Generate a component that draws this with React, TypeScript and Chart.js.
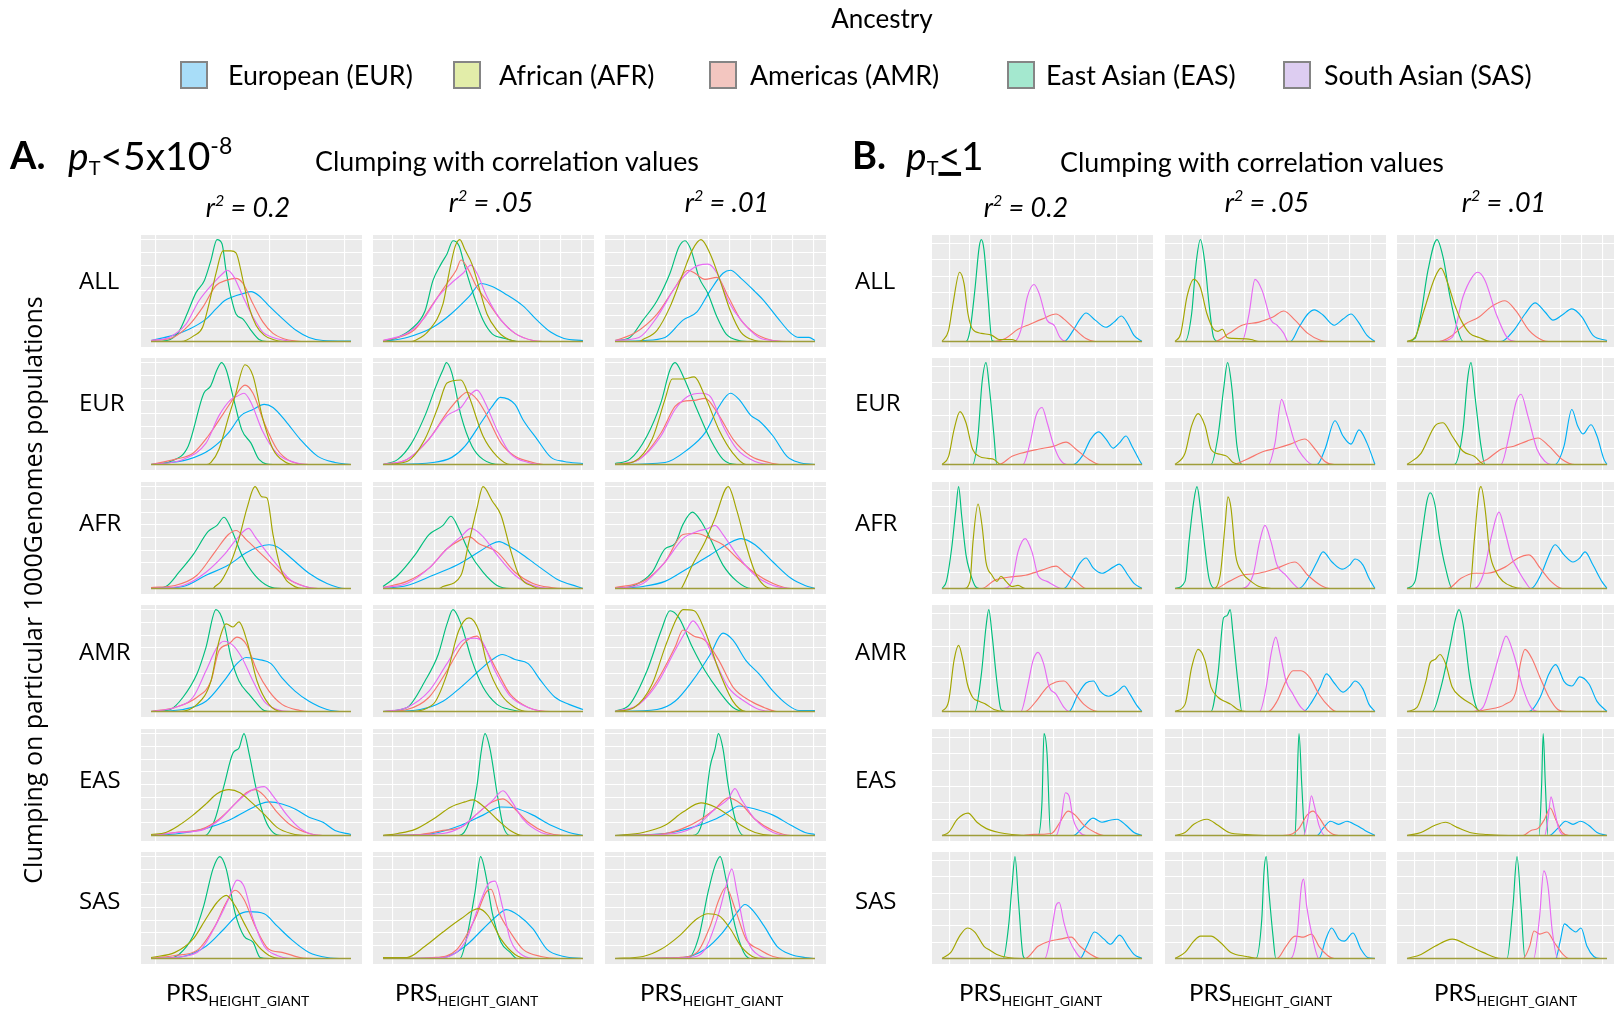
import React, { useEffect, useRef } from "react";
import { Chart, registerables } from "chart.js";

Chart.register(...registerables);

// ---------- categories / labels ----------
const ANCESTRIES = ["EUR", "AFR", "AMR", "EAS", "SAS"];
const LEGEND_LABELS = ["European (EUR)", "African (AFR)", "Americas (AMR)", "East Asian (EAS)", "South Asian (SAS)"];
const LINE_COLORS = ["#00B0F6", "#A3A500", "#F8766D", "#00BF7D", "#E76BF3"];
const FILL_COLORS = ["#A8DDF8", "#E2EDA9", "#F3C6C0", "#A4E8CF", "#DDCDF1"];
const DRAW_ORDER = [4, 0, 2, 3, 1];
const ROW_LABELS = ["ALL", "EUR", "AFR", "AMR", "EAS", "SAS"];
const R2_VALUES = ["0.2", ".05", ".01"];

// ---------- density curves (x: 0..100 of PRS range, y: 0..100 of panel max) ----------
// order in each panel: EUR, AFR, AMR, EAS, SAS
const A_ALL_02 = [
  [0,1, 11,6, 19,12, 27.5,22, 32.5,32, 36.7,40, 41,44, 46,47, 50,49, 54,45, 59,35, 66,22, 72.5,11, 79,4, 86,1, 100,0.5],
  [0,0, 15,0, 21.7,6, 25.8,14, 29,37, 32.5,67, 36,89, 40,89, 42.5,87, 46,60, 49,34, 52.5,16, 56.7,6, 61,2, 66,0, 100,0],
  [0,1, 11,4, 19,16, 26,34, 32.5,55, 37.5,60, 42.5,62, 46,57, 51,37, 56,19, 61,8, 66,3, 72.5,0.5, 79,0, 100,0],
  [0,0, 8,1, 14,10, 18,27, 22.5,48, 26.7,60, 30,80, 33,100, 35.5,96, 37.5,70, 40,44, 42.5,27, 46,22, 50,11, 54,2, 58,0, 100,0],
  [0,1, 9,4, 17.5,17, 24,40, 31,57, 36,67, 38,70, 41,65, 46,44, 51,24, 56,9, 61,4, 67.5,1, 72,0, 100,0],
];
const A_ALL_05 = [
  [0,0, 12,4, 25,14, 34,27, 43,44, 49,57, 54.6,54, 61,47, 70,35, 77,21, 84,9, 90.5,3, 100,1],
  [0,0, 14,0, 16,1, 23,11, 30,37, 33,67, 36,93, 38.4,100, 41,90, 44.5,76, 48,53, 52,27, 57,11, 61,4, 68,0, 100,0],
  [0,1, 7.4,4, 16,12, 25,37, 32,57, 36.6,70, 39,80, 42,73, 47,53, 52,40, 59,21, 66,8, 75,1, 82,0, 100,0],
  [0,0, 7.4,4, 14,12, 21,30, 25,60, 29,76, 32,86, 35,99, 38,94, 41,73, 45.6,44, 50,21, 54.6,7.5, 61,3, 68,0, 100,0],
  [0,1, 12,8, 21,24, 27.6,44, 34,57, 40,67, 44,75, 47,67, 52,44, 59,21, 66,8, 75,1, 82,0, 100,0],
];
const A_ALL_01 = [
  [0,0, 14,1, 25,4, 34,21, 41,29, 47.6,50, 54,67, 57.7,70, 63,62, 70,49, 74.5,40, 81,24, 88,8, 92,4, 97,4, 100,1],
  [0,0, 12,0, 14,2, 21,11, 27.5,34, 34,67, 38.7,90, 43,100, 47.6,86, 52,63, 57.7,30, 63,9, 70,1, 74.5,0, 100,0],
  [0,1, 9.6,8, 21,27, 30,53, 36.5,70, 40,67, 45,61, 51,63, 56.6,44, 63,21, 70,8, 77,2, 86,0, 100,0],
  [0,1, 7.4,4, 14,21, 21,40, 27.5,67, 32,93, 35,99, 38,90, 42,63, 46.5,47, 51,24, 55.5,7.5, 62,1, 68,0, 100,0],
  [0,1, 12,4, 21,24, 30,53, 36.5,68, 42,75, 46.5,76, 51,67, 56.6,40, 63,21, 72,4, 79,1, 86,0, 100,0],
];
const A_EUR_02 = [
  [0,0, 18.6,5, 29.8,15, 38.7,31, 45,48, 51,54, 56.6,59, 61,56, 68,41, 74.5,25, 83.4,8, 92,2, 100,0],
  [0,0, 28,0, 30,2, 34,15, 39,48, 42,67, 47,98, 51,87, 55.5,48, 61,15, 66.7,3, 72,0, 100,0],
  [0,0, 12,5, 21,11, 28.6,28, 36.5,51, 42,67, 47,78, 51,70, 56.6,41, 63,15, 70,3, 79,0, 100,0],
  [0,0, 9.6,3, 18.6,18, 26.4,70, 29.8,77, 33,93, 35.3,100, 37.6,93, 41,67, 45.4,34, 50,21, 54,5, 61,0, 100,0],
  [0,0, 16,5, 27.5,21, 34,48, 40,64, 43,67, 46.5,70, 50,61, 55.5,34, 63,11, 72,2, 79,0, 100,0],
];
const A_EUR_05 = [
  [0,0, 25,2, 34.4,7, 41,18, 50,44, 54.6,57, 58.6,66, 66,59, 70,44, 77,25, 84,7, 90.5,3, 100,1],
  [0,0, 12,3, 21,25, 27.6,57, 32,80, 39,83, 43,67, 50,28, 57,8, 63.6,0, 100,0],
  [0,0, 12,5, 23,25, 32,51, 39,67, 42,71, 47,64, 52,48, 59,21, 66,8, 75,2, 81.6,0, 100,0],
  [0,0, 7.4,5, 14,20, 21,48, 26.5,77, 30,93, 31.7,100, 34.4,90, 39,48, 44.5,18, 50,5, 59,0, 100,0],
  [0,0, 12,5, 23,25, 32,48, 39,56, 43,67, 47,73, 51,61, 57,34, 63.6,11, 72.6,2, 81.6,0, 100,0],
];
const A_EUR_01 = [
  [0,0, 25,2, 36.5,15, 45,31, 52,57, 57.7,70, 62,64, 68,48, 72,43, 79,28, 86,8, 92,2, 100,0],
  [0,0, 9.6,3, 18.6,25, 25,64, 28.6,84, 34,84, 39.6,86, 45,67, 52,34, 59,11, 65.5,0, 100,0],
  [0,0, 12,5, 23,31, 30,57, 34,62, 39.6,63, 45,65, 52,48, 59,25, 68,8, 77,2, 83.4,0, 100,0],
  [0,1, 7.4,5, 16,28, 23,61, 27.5,93, 30,100, 34,87, 41,54, 47.6,25, 54,5, 61,0, 100,0],
  [0,0, 12,5, 23,28, 30,54, 36.5,67, 43,70, 47.6,67, 54,38, 61,15, 70,3, 79,0, 100,0],
];
const A_AFR_02 = [
  [0,0, 16,2, 27.5,13, 38.7,23, 47.6,35, 54,41, 59,43, 63,41, 70,30, 79,15, 88,5, 97,0, 100,0],
  [0,0, 31,0, 32,2, 35,7, 40,26, 44,49, 48,79, 52,100, 55.5,90, 58,89, 61,53, 65.5,16, 71,3, 77,0, 100,0],
  [0,1, 12,3, 23,13, 32,36, 38.7,53, 42.5,57, 47.6,48, 54,36, 61,23, 68,10, 77,2, 83.4,0, 100,0],
  [0,0, 7.4,2, 14,16, 21,33, 28.6,56, 33,62, 36.5,70, 40,59, 45.4,33, 52,13, 59,2, 65.5,0, 100,0],
  [0,0, 16,3, 27.5,16, 36.5,33, 43,49, 48.8,59, 52,51, 56.6,39, 63,23, 70,8, 79,1, 86,0, 100,0],
];
const A_AFR_05 = [
  [0,0, 12,3, 25,13, 37,23, 48,36, 54.6,44, 58,46, 63.6,41, 70,33, 79,20, 88,8, 97,2, 100,0],
  [0,0, 28,0, 30,2, 39,13, 43,46, 47,79, 50,100, 54.6,86, 59,72, 63.6,39, 68,13, 75,2, 79,0, 100,0],
  [0,1, 12,7, 23,20, 32,39, 39,48, 43,51, 48,44, 57,36, 66,16, 75,5, 84,1, 90.5,0, 100,0],
  [0,2, 7.4,13, 16,33, 23,53, 30,62, 34,71, 37.8,59, 43,36, 50,16, 57,3, 63.6,0, 100,0],
  [0,1, 12,5, 23,20, 32,39, 39,51, 44,59, 50,51, 57,33, 66,13, 75,3, 84,0, 100,0],
];
const A_AFR_01 = [
  [0,0, 14,2, 25,7, 36.5,20, 47.6,33, 56.6,44, 63,49, 70,43, 79,26, 88,10, 95,3, 100,0],
  [0,0, 33,0, 34,3, 38.7,23, 45,46, 50,69, 56.6,100, 61,76, 65.5,43, 70,16, 74.5,3, 79,0, 100,0],
  [0,1, 14,7, 25,26, 34,53, 41,54, 47.6,49, 54,43, 61,30, 70,15, 79,5, 88,0, 100,0],
  [0,0, 9.6,3, 18.6,16, 25,39, 30,44, 34,63, 38.7,75, 43,66, 47.6,49, 54,23, 61,7, 68,0, 100,0],
  [0,0, 14,5, 25,26, 34,49, 41,56, 46.5,59, 50,62, 54,53, 61,33, 70,13, 79,3, 88,0, 100,0],
];
const A_AMR_02 = [
  [0,0, 16,2, 27.5,10, 36.5,30, 43,47, 47.6,53, 54,51, 60,47, 65.5,33, 72,20, 79,10, 88,2, 97,0, 100,0],
  [0,0, 12,0, 23,7, 30,30, 34,69, 37.6,86, 41,83, 44,88, 48,69, 53,30, 59,7, 65.5,0, 100,0],
  [0,0, 12,4, 23,14, 30,30, 34,60, 38.7,66, 43,73, 47.6,66, 53,40, 59,20, 65.5,7, 74.5,1, 79,0, 100,0],
  [0,0, 9.6,2, 16,14, 23,37, 27.5,63, 32.5,100, 36.5,86, 40,53, 44,30, 49,17, 52,10, 56.6,1, 61,0, 100,0],
  [0,0, 12,4, 21,14, 27.5,40, 33,63, 36.5,69, 41,65, 45.4,53, 51,30, 56.6,10, 63,2, 70,0, 100,0],
];
const A_AMR_05 = [
  [0,0, 18.6,2, 30,10, 39,24, 48,40, 54.6,51, 59.6,56, 66,51, 72.6,47, 79,30, 86,14, 93,7, 100,2],
  [0,0, 12,0, 25,7, 32,37, 37.8,79, 43,92, 48,79, 52,47, 59,17, 66,4, 72.6,0, 100,0],
  [0,0, 12,2, 23,14, 32,40, 40,66, 47,74, 50,66, 57,40, 63.6,17, 72.6,4, 84,0, 100,0],
  [0,0, 12,4, 21,30, 27.6,56, 32,86, 35,100, 39,86, 44.5,50, 50,24, 57,7, 63.6,2, 70,0, 100,0],
  [0,0, 12,4, 23,20, 32,47, 40,70, 45.6,72, 49,70, 56,40, 63.6,15, 72.6,4, 81.6,0, 100,0],
];
const A_AMR_01 = [
  [0,0, 21,2, 30,10, 38.7,30, 47.6,56, 54,77, 59,70, 65.5,50, 72,37, 79,20, 86,7, 92,1, 100,1],
  [0,0, 9.6,4, 18.6,27, 25,63, 31,92, 34,100, 39.6,99, 45,79, 52,40, 59,10, 65.5,0, 100,0],
  [0,0, 12,7, 21,30, 30,63, 34,80, 39.6,74, 45,70, 52,50, 59,24, 68,10, 74.5,4, 81,0, 100,0],
  [0,0, 7.4,7, 16,40, 23,79, 27.5,99, 32,92, 38.7,63, 45,40, 52,20, 59,4, 65.5,0, 100,0],
  [0,0, 12,7, 21,27, 30,60, 35.5,79, 39,89, 43,79, 50,50, 56.6,24, 65.5,9, 72,2, 79,0, 100,0],
];
const A_EAS_02 = [
  [0,0, 14,2, 27.5,7, 39,15, 47.6,24, 54.6,31, 59,33, 65.5,31, 72,26, 79,18, 86,13, 92,5, 100,1],
  [0,1, 7.4,3, 14,10, 21,20, 27.5,31, 33,41, 39,45, 44.5,42, 50,33, 57,20, 63,8, 70,2, 79,0, 100,0],
  [0,0, 12,3, 25,6, 34,16, 43,33, 47.6,42, 52,45, 56.6,39, 63,23, 70,10, 79,2, 86,0, 100,0],
  [0,0, 27,0, 32,16, 36.5,49, 41,81, 44,86, 46.5,100, 49,81, 52.6,46, 57,16, 61,3, 65.5,0, 100,0],
  [0,0, 14,3, 25,5, 34,15, 43,33, 50,44, 56.6,48, 61,39, 68,20, 74.5,7, 81,1, 88,0, 100,0],
];
const A_EAS_05 = [
  [0,0, 25,2, 39,10, 50,20, 59,28, 66,27, 75,20, 84,10, 93,3, 100,0],
  [0,0, 7.4,2, 16,6, 25,16, 34,28, 41,33, 45,35, 50,29, 57,16, 63.6,5, 70,0, 100,0],
  [0,0, 18.6,1, 30,5, 39,8, 48,23, 54.6,33, 60,36, 66,26, 72.6,13, 81.6,3, 90.5,0, 100,0],
  [0,0, 38,0, 43,13, 47,49, 49,81, 51,100, 53.5,85, 57,42, 60,10, 63.6,0, 100,0],
  [0,0, 30,2, 39,8, 48,23, 54.6,34, 60,44, 64.5,33, 70,16, 79,3, 88,0, 100,0],
];
const A_EAS_01 = [
  [0,0, 25,2, 38.7,8, 50,16, 56.6,23, 62,29, 70,26, 79,20, 88,10, 95,3, 100,1],
  [0,0, 14,3, 25,10, 34,23, 43,32, 50,28, 56.6,20, 63,10, 70,3, 79,0, 100,0],
  [0,0, 25,2, 34,7, 43,16, 50,26, 56.6,37, 63,31, 70,16, 79,5, 88,0, 100,0],
  [0,0, 38.7,0, 44,16, 47.6,68, 50,85, 51.7,100, 54,85, 56.6,49, 61,10, 64.4,0, 100,0],
  [0,0, 30,2, 41,10, 50,26, 56.6,36, 60,46, 63,36, 70,16, 79,3, 88,0, 100,0],
];
const A_SAS_02 = [
  [0,0, 16,2, 27.5,12, 36.5,29, 43,42, 48.8,46, 56.6,44, 63,32, 70,19, 79,6, 88,1, 97,0, 100,0],
  [0,1, 12,6, 21,19, 27.5,39, 33,55, 37.6,62, 42,52, 46.5,35, 52,16, 59,3, 65.5,0, 100,0],
  [0,0, 12,3, 23,8, 32,32, 37.6,55, 42,67, 46.5,58, 52,32, 59,9, 65.5,6, 74.5,1, 83.4,0, 100,0],
  [0,0, 7.4,0, 14,4, 21,22, 26.4,52, 31,88, 34.4,100, 37.6,88, 42,45, 46.5,22, 51,16, 54.6,1, 59,0, 100,0],
  [0,0, 16,2, 25,9, 33,35, 38.7,58, 43,77, 46.5,71, 51,39, 56.6,12, 63,3, 70,0, 100,0],
];
const A_SAS_05 = [
  [0,0, 30,1, 41,12, 50,29, 57,42, 61.6,48, 68,42, 75,29, 82,9, 90.5,2, 100,0],
  [0,1, 12,1, 21,12, 30,26, 39,39, 47.6,49, 52.6,42, 59,19, 66,4, 72.6,0, 100,0],
  [0,0, 25,1, 37,9, 46,39, 51.5,65, 54,68, 58,45, 63.6,26, 70,9, 79,2, 88,0, 100,0],
  [0,0, 38.5,0, 42,22, 46,65, 48.8,100, 51.5,81, 54.6,45, 59,16, 63.6,6, 67,0, 100,0],
  [0,0, 30,1, 41,16, 48,52, 52.6,73, 56,76, 59.6,52, 63.6,19, 70,3, 77,0, 100,0],
];
const A_SAS_01 = [
  [0,0, 34,1, 45,9, 54,26, 61,45, 65,53, 69,47, 74.5,32, 81,12, 88,4, 95,1, 100,0],
  [0,0, 14,2, 23,9, 32,22, 41,39, 46.5,44, 52,42, 57.7,29, 63,12, 70,1, 74.5,0, 100,0],
  [0,0, 32,1, 41,6, 47.6,32, 52,58, 55.5,70, 60,49, 65.5,19, 72,9, 79,2, 86,0, 100,0],
  [0,0, 36.5,0, 42,22, 46.5,65, 50,91, 52.6,100, 55.5,78, 60,32, 64.4,6, 68,0, 100,0],
  [0,0, 36.5,1, 45,9, 52,45, 55.5,71, 58.4,88, 61,65, 65.5,22, 72,3, 79,0, 100,0],
];

const B_ALL_02 = [
  [0,0, 61,0, 65.6,11, 69,22, 72,28, 76.6,21, 82,14, 86,19, 89.7,25, 93,17, 96,6, 100,0],
  [0,0, 3.3,11, 5.5,37, 8.8,68, 11,57, 13,27, 15.3,12, 19.7,8, 25,6, 28.5,2, 35,2, 38,0, 100,0],
  [0,0, 26,0, 31.7,3, 38,12, 44,17, 50,22, 57,27, 61,22, 67,11, 72,3, 76.6,0, 100,0],
  [0,0, 12,0, 14,11, 16.4,50, 18.6,93, 19.7,100, 21,90, 23,44, 25,1, 27,0, 100,0],
  [0,0, 36,0, 39.4,11, 42.7,44, 46,56, 48.6,47, 52.5,21, 56,16, 59,4, 62.4,0, 100,0],
];
const B_ALL_05 = [
  [0,0, 57.7,0, 62,14, 66.4,27, 69.7,31, 74,26, 79.6,16, 84,22, 88,27, 91.7,19, 96,6, 100,0],
  [0,0, 2.9,8, 6,44, 9.4,61, 12.7,53, 16,27, 19.3,12, 21.5,10, 23.7,12, 26,4, 29,3, 38,2, 42,0, 100,0],
  [0,0, 20,0, 27,8, 33.5,16, 42,19, 49,24, 54.4,30, 60,21, 66.4,8, 73,1, 77.4,0, 100,0],
  [0,0, 5,0, 8.3,27, 10.5,76, 12.7,100, 15,76, 17,37, 19.3,4, 21.5,0, 100,0],
  [0,0, 33.5,0, 37,27, 40,61, 43.6,50, 48,21, 51,16, 54.4,8, 56.6,0, 100,0],
];
const B_ALL_01 = [
  [0,0, 47,0, 53.4,11, 59,27, 64,38, 69,29, 73,21, 77.6,26, 82.4,32, 87.5,24, 93,6, 100,1],
  [0,0, 4,4, 8.4,30, 14,63, 17,72, 20.4,57, 23.7,37, 27,21, 31.4,8, 36,4, 42,0, 100,0],
  [0,0, 16,0, 22.6,6, 29,17, 36,24, 42,34, 49,40, 54.5,30, 61,11, 68,1, 71,0, 100,0],
  [0,0, 4,3, 7,27, 10.5,70, 15,100, 18,83, 21.5,44, 25,14, 28,0, 100,0],
  [0,0, 16,0, 22.6,4, 28,44, 32.5,63, 35.4,68, 39,60, 44.6,27, 50,4, 54.5,0, 100,0],
];
const B_EUR_02 = [
  [0,0, 65.6,0, 70,8, 74.4,25, 78.3,32, 82,25, 85.6,16, 88.6,21, 92,28, 95,18, 98.5,5, 100,0],
  [0,0, 3.3,8, 6,34, 9,52, 12,41, 15.3,15, 18.6,8, 23,6, 26,5, 29.5,0, 100,0],
  [0,0, 28.4,0, 35,8, 39.4,11, 48,15, 56,18, 62,22, 67,15, 73.5,5, 79,0, 100,0],
  [0,0, 15.3,0, 18,28, 20,80, 22,100, 23.6,77, 26,28, 27.4,0, 100,0],
  [0,0, 40.5,0, 44,21, 47,48, 50,56, 52.6,41, 56,18, 59,5, 62.4,0, 100,0],
];
const B_EUR_05 = [
  [0,0, 71,0, 75,15, 80,43, 84,28, 88,20, 92,34, 96,21, 100,0],
  [0,0, 5,11, 8.3,38, 11.6,50, 15,38, 18,15, 22.6,10, 26,8, 29,2, 33.5,0, 100,0],
  [0,0, 29,0, 35.7,5, 44.5,13, 51,16, 57.7,20, 65,25, 70,15, 75,3, 79.6,0, 100,0],
  [0,0, 18,0, 21.5,28, 24.3,74, 26.3,100, 28.5,74, 31,18, 33.5,0, 100,0],
  [0,0, 46.7,0, 50,21, 53.3,64, 56,48, 60,21, 64,8, 68.6,0, 100,0],
];
const B_EUR_01 = [
  [0,0, 74,0, 78.5,18, 82.4,54, 85.3,38, 88,30, 92,39, 95,28, 98.5,5, 100,0],
  [0,0, 7,11, 14,38, 18,41, 22.6,28, 28,13, 33.6,8, 39,0, 100,0],
  [0,0, 33.6,0, 40,5, 47,15, 53.4,18, 60,23, 65.5,26, 71,18, 77.6,5, 84,0, 100,0],
  [0,0, 23.7,0, 28,34, 30.3,84, 32,100, 34,67, 37,18, 39,0, 100,0],
  [0,0, 47,0, 51,28, 54.5,61, 57,69, 60.4,48, 65,15, 69,3, 72,0, 100,0],
];
const B_AFR_02 = [
  [0,0, 61,0, 65.6,13, 69,25, 72,30, 75.7,20, 80,15, 85.6,21, 88.6,24, 93,13, 96,5, 100,0],
  [0,0, 11,0, 14,7, 15.5,46, 18,83, 20,62, 22,26, 25,13, 27.5,7, 29.5,12, 32,7, 35,2, 38,3, 41.6,0, 100,0],
  [0,0, 20,0, 26.2,8, 33,11, 41.6,13, 50,18, 57,22, 61,16, 67,7, 72,0, 100,0],
  [0,0, 2.2,7, 4.8,39, 7,79, 8.3,100, 9.8,72, 12,33, 14,16, 16.4,3, 18.6,0, 100,0],
  [0,0, 30.6,0, 35,7, 38,36, 41.6,49, 45,36, 48,13, 52.5,7, 57,2, 60,0, 100,0],
];
const B_AFR_05 = [
  [0,0, 62,0, 67.5,13, 71,26, 74,36, 78.5,26, 83.5,19, 87.3,23, 90,29, 94,23, 97,10, 100,0],
  [0,0, 19,0, 22.6,13, 25,62, 26.5,90, 28,79, 30.3,33, 33.5,16, 38,7, 42,2, 51,0, 100,0],
  [0,0, 20,0, 27,7, 33.5,13, 42,15, 51,20, 60,26, 66.4,13, 73,3, 77.4,0, 100,0],
  [0,0, 5,7, 7,46, 9.4,86, 11,100, 12.7,79, 15,39, 17,10, 20,0, 100,0],
  [0,0, 33.5,0, 39,13, 42.3,46, 45,62, 48,46, 51,23, 55.5,13, 60,3, 62,0, 100,0],
];
const B_AFR_01 = [
  [0,0, 62,0, 67.5,16, 71,33, 74,43, 78.5,33, 83,26, 86.4,30, 89,36, 93,23, 97.4,7, 100,0],
  [0,0, 31.4,0, 33.6,46, 36,95, 37,100, 39,79, 41.3,36, 44.6,16, 48,7, 52.5,2, 58,0, 100,0],
  [0,0, 20.4,0, 27,10, 33.6,15, 40,15, 49,21, 55.6,30, 61,33, 66.6,20, 72,7, 77.6,0, 100,0],
  [0,0, 4,7, 7,46, 10,86, 11.6,94, 14,82, 16,53, 19.3,20, 22.6,0, 100,0],
  [0,0, 33.6,0, 38,13, 42.4,53, 46,75, 49,56, 52.5,30, 55.6,18, 59,7, 62,0, 100,0],
];
const B_AMR_02 = [
  [0,0, 63.5,0, 68,17, 72,28, 75.7,30, 79,20, 83.4,15, 88,20, 91,25, 94,17, 97.4,6, 100,0],
  [0,0, 3.3,10, 6,50, 8.3,65, 10.5,50, 12.7,27, 15.3,14, 18.6,10, 22,7, 26,2, 31.7,0, 100,0],
  [0,0, 41.6,0, 47,10, 52.6,24, 57,29, 61,30, 65.6,20, 71,7, 78,0, 100,0],
  [0,0, 16.4,0, 19.7,37, 22,83, 23.4,100, 25,76, 27.4,30, 29.5,2, 31.7,0, 100,0],
  [0,0, 39.4,0, 42.7,24, 45.5,50, 48,58, 50.8,47, 53.6,24, 57,17, 61,4, 63.5,0, 100,0],
];
const B_AMR_05 = [
  [0,0, 64.3,0, 68.6,10, 72.6,24, 75.7,37, 79.6,28, 84,19, 87.3,24, 90,30, 94,22, 97,7, 100,0],
  [0,0, 5,7, 8.3,43, 11.6,61, 15,50, 18,24, 21.5,14, 24.8,10, 28,7, 31.4,2, 35.7,0, 100,0],
  [0,0, 46.7,0, 51,10, 55.5,30, 59,40, 63,40, 67.5,33, 72,17, 77.4,4, 80.7,0, 100,0],
  [0,0, 18,0, 21.5,37, 24.3,92, 26,94, 27.6,100, 29,76, 31.4,30, 33.5,0, 100,0],
  [0,0, 42.3,0, 45.6,24, 48,56, 50.4,73, 52.6,56, 55.5,30, 59,17, 63,4, 66.4,0, 100,0],
];
const B_AMR_01 = [
  [0,0, 61,0, 66.6,14, 71,37, 74.3,46, 78.7,29, 82.4,25, 86.4,34, 91,27, 95,10, 100,0],
  [0,0, 5,4, 9.5,30, 11.6,48, 14,51, 16.5,56, 19.3,47, 22.6,24, 27,14, 32.5,7, 37,0, 100,0],
  [0,0, 31.4,0, 40,2, 49,7, 54.5,20, 56.7,47, 59,61, 62.2,53, 66.6,33, 71,14, 75.4,2, 79.8,0, 100,0],
  [0,0, 12.7,0, 17,24, 21.4,63, 24.4,92, 26,100, 28,86, 31.4,33, 34.7,4, 37,0, 100,0],
  [0,0, 33.6,0, 38,4, 42.4,30, 46.8,60, 49.5,74, 53.4,56, 57.8,24, 62,4, 65.5,0, 100,0],
];
const B_EAS_02 = [
  [0,0, 65.6,0, 70,7, 75.5,17, 80,13, 84,15, 87.5,16, 92,10, 96,3, 100,0],
  [0,0, 3.3,3, 7.7,16, 13,22, 17.5,13, 22,7, 28.4,3, 35,1, 44,0, 100,0],
  [0,0, 40,0, 44,1, 54.7,2, 59,13, 63,24, 66.6,20, 71,10, 76.6,3, 81,0, 100,0],
  [0,0, 48,0, 50,33, 51,100, 52.5,81, 54.3,0, 100,0],
  [0,0, 57,0, 59.5,16, 61.7,42, 63.5,39, 65.6,16, 69,3, 72,0, 100,0],
];
const B_EAS_05 = [
  [0,0, 71,0, 74,7, 77.8,14, 81.8,11, 86,14, 90.6,10, 95,5, 100,0],
  [0,0, 5,3, 9.4,11, 16,16, 21.5,10, 27,3, 35.7,1, 46.7,0, 100,0],
  [0,0, 52,0, 57.7,1, 62,7, 66,20, 69,24, 72.6,16, 76.3,5, 81.8,0, 100,0],
  [0,0, 60,0, 61,49, 62,100, 63.4,49, 65,0, 100,0],
  [0,0, 64.3,0, 66.4,16, 68.2,39, 69.7,29, 72,10, 75,0, 100,0],
];
const B_EAS_01 = [
  [0,0, 71,0, 75.4,7, 79.3,14, 83,11, 86.8,14, 90.8,10, 95,3, 100,0],
  [0,0, 7,3, 14,10, 19.3,13, 25,8, 31.4,3, 40,1, 51,0, 100,0],
  [0,0, 58,0, 62,5, 65.5,7, 68.8,16, 71.6,27, 74.3,16, 77.6,3, 81,0, 100,0],
  [0,0, 66,0, 67.3,49, 68.1,100, 69.2,49, 70.5,0, 100,0],
  [0,0, 68.8,0, 70.5,16, 72,38, 73.6,26, 75.8,7, 78.7,0, 100,0],
];
const B_SAS_02 = [
  [0,0, 69,0, 72.4,12, 76.2,26, 81,19, 84.2,14, 88.8,23, 93,12, 96,4, 100,0],
  [0,0, 4.4,6, 8.8,22, 12.7,30, 16.4,26, 21,12, 24,8, 27.4,4, 33,1, 39.4,0, 100,0],
  [0,0, 41.6,0, 48,12, 53.6,17, 59,19, 64.6,21, 69,12, 74.4,4, 79,0, 100,0],
  [0,0, 30.6,0, 33.3,32, 35,71, 36.5,100, 38.3,55, 40.5,3, 41.6,0, 100,0],
  [0,0, 51.4,0, 54.7,26, 57,52, 58.6,55, 61,35, 63.5,19, 67,6, 70,0, 100,0],
];
const B_SAS_05 = [
  [0,0, 72,0, 75.4,19, 78.3,30, 82,19, 84.6,17, 89,25, 93,9, 96.3,1, 100,0],
  [0,0, 5,6, 9.4,17, 12.7,22, 18,22, 22.6,16, 28,6, 35.7,2, 42.3,0, 100,0],
  [0,0, 51,0, 55.5,12, 60,22, 64.3,21, 68.2,24, 72,12, 76.3,3, 79.6,0, 100,0],
  [0,0, 40.5,0, 43.4,39, 44.5,85, 45.6,100, 47,65, 49,22, 50.4,0, 100,0],
  [0,0, 57.7,0, 61,22, 63.2,71, 64.3,78, 65.8,52, 68.2,26, 72,0, 100,0],
];
const B_SAS_01 = [
  [0,0, 74.3,0, 76.5,16, 78.7,34, 82,29, 84.4,26, 87,30, 90,12, 93.4,2, 96.7,0, 100,0],
  [0,0, 7,4, 14,12, 22.6,19, 31.4,12, 38,6, 47,0, 100,0],
  [0,0, 58,0, 61.3,12, 63.5,27, 66.4,24, 70,26, 73.6,16, 78,4, 81,0, 100,0],
  [0,0, 50,0, 53,52, 55,100, 57,52, 59,0, 100,0],
  [0,0, 63.3,0, 66.2,39, 68.4,86, 70.5,71, 72.7,26, 75.4,0, 100,0],
];

const PANELS_A = [
  [A_ALL_02, A_ALL_05, A_ALL_01],
  [A_EUR_02, A_EUR_05, A_EUR_01],
  [A_AFR_02, A_AFR_05, A_AFR_01],
  [A_AMR_02, A_AMR_05, A_AMR_01],
  [A_EAS_02, A_EAS_05, A_EAS_01],
  [A_SAS_02, A_SAS_05, A_SAS_01],
];
const PANELS_B = [
  [B_ALL_02, B_ALL_05, B_ALL_01],
  [B_EUR_02, B_EUR_05, B_EUR_01],
  [B_AFR_02, B_AFR_05, B_AFR_01],
  [B_AMR_02, B_AMR_05, B_AMR_01],
  [B_EAS_02, B_EAS_05, B_EAS_01],
  [B_SAS_02, B_SAS_05, B_SAS_01],
];

// grid-line tick values (white ggplot grid)
const GRID_X_WIDE = [2.5, 21.3, 40.2, 59.1, 78, 96.9];
const GRID_X_NARROW = [5, 15.5, 26, 36.5, 47, 57.5, 68, 78.5, 89, 99.5];
const GRID_X_B = [3.6, 14, 24.5, 35, 45.5, 56, 66.5, 77, 87.5, 98];
const GRID_Y_A = [12.5, 25, 37.5, 50, 62.5, 75, 87.5, 100];
const GRID_Y_B = [16, 32, 48, 64, 80, 96];

// ---------- layout ----------
const COL_LEFT_A = [141, 373, 605];
const COL_LEFT_B = [932, 1165, 1397];
const ROW_TOP = [235, 358, 482, 605, 729, 852];
const PANEL_W = 221;
const PANEL_H = 112;
const ROW_BASE = [289, 411, 531, 660, 788, 909];

const toPoints = (arr: number[]) => {
  const pts: { x: number; y: number }[] = [];
  for (let i = 0; i < arr.length; i += 2) pts.push({ x: arr[i], y: arr[i + 1] });
  return pts;
};

// density outline baseline (y = 0 across the whole x range), drawn on top in the AFR colour
const baselinePlugin = {
  id: "densityBaseline",
  afterDatasetsDraw(chart: any) {
    const { ctx, scales } = chart;
    const y = scales.y.getPixelForValue(0);
    const x0 = scales.x.getPixelForValue(0);
    const x1 = scales.x.getPixelForValue(100);
    ctx.save();
    ctx.strokeStyle = "#9E9D3A";
    ctx.lineWidth = 1.6;
    ctx.beginPath();
    ctx.moveTo(x0, y);
    ctx.lineTo(x1, y);
    ctx.stroke();
    ctx.restore();
  },
};

function Panel(props: { left: number; top: number; series: number[][]; gx: number[]; gy: number[] }) {
  const ref = useRef<HTMLCanvasElement>(null);
  const { left, top, series, gx, gy } = props;
  useEffect(() => {
    const chart = new Chart(ref.current as HTMLCanvasElement, {
      type: "line",
      data: {
        datasets: series.map((s, i) => ({
          label: ANCESTRIES[i],
          data: toPoints(s),
          borderColor: LINE_COLORS[i],
          backgroundColor: LINE_COLORS[i],
          borderWidth: 1.15,
          pointRadius: 0,
          fill: false,
          cubicInterpolationMode: "monotone" as const,
          order: DRAW_ORDER[i],
        })),
      },
      options: {
        animation: false,
        responsive: false,
        maintainAspectRatio: false,
        events: [],
        layout: { padding: 0 },
        plugins: { legend: { display: false }, tooltip: { enabled: false } },
        scales: {
          x: {
            type: "linear",
            min: -5,
            max: 105.5,
            ticks: { display: false },
            border: { display: false },
            grid: { color: "#FFFFFF", lineWidth: 1.1, drawTicks: false },
            afterBuildTicks: (axis: any) => {
              axis.ticks = gx.map((v) => ({ value: v }));
            },
          },
          y: {
            type: "linear",
            min: -5.4,
            max: 104.6,
            ticks: { display: false },
            border: { display: false },
            grid: { color: "#FFFFFF", lineWidth: 1.1, drawTicks: false },
            afterBuildTicks: (axis: any) => {
              axis.ticks = gy.map((v) => ({ value: v }));
            },
          },
        },
      },
      plugins: [baselinePlugin],
    } as any);
    return () => chart.destroy();
  }, []);
  return (
    <canvas
      ref={ref}
      width={PANEL_W}
      height={PANEL_H}
      style={{ position: "absolute", left, top, width: PANEL_W, height: PANEL_H, background: "#EBEBEB" }}
    />
  );
}

const SANS = "Lato, 'Open Sans', sans-serif";
const ROWFONT = "'Open Sans', Lato, sans-serif";

function R2Label(props: { cx: number; y: number; v: string }) {
  return (
    <text x={props.cx} y={props.y} textAnchor="middle" fontFamily={SANS} fontStyle="italic" fontSize={27} fill="#000">
      r<tspan fontSize={16} dy={-11}>2</tspan>
      <tspan dy={11}>{" = " + props.v}</tspan>
    </text>
  );
}

function PRSLabel(props: { x: number }) {
  return (
    <text x={props.x} y={1001} fontFamily={SANS} fontSize={24} fill="#000">
      PRS<tspan fontSize={14} dy={5}>HEIGHT_GIANT</tspan>
    </text>
  );
}

export default function App() {
  const legendBoxX = [181, 454, 710, 1008, 1284];
  const legendTextX = [228, 499, 750, 1046, 1324];
  const r2A = [248, 491, 727];
  const r2B = [1026, 1267, 1504];
  const r2Y = [217, 212, 212];
  const prsA = [166, 395, 640];
  const prsB = [959, 1189, 1434];
  return (
    <div style={{ position: "absolute", left: 0, top: 0, width: 1614, height: 1010, overflow: "hidden", background: "#fff" }}>
      {PANELS_A.map((row, r) =>
        row.map((p, c) => (
          <Panel key={"a" + r + c} left={COL_LEFT_A[c]} top={ROW_TOP[r]} series={p} gx={c === 0 ? GRID_X_WIDE : GRID_X_NARROW} gy={GRID_Y_A} />
        ))
      )}
      {PANELS_B.map((row, r) =>
        row.map((p, c) => (
          <Panel key={"b" + r + c} left={COL_LEFT_B[c]} top={ROW_TOP[r]} series={p} gx={GRID_X_B} gy={GRID_Y_B} />
        ))
      )}
      <svg width={1614} height={1010} style={{ position: "absolute", left: 0, top: 0, pointerEvents: "none" }}>
        {/* legend */}
        <text x={882} y={28} textAnchor="middle" fontFamily={SANS} fontSize={26} fill="#000">Ancestry</text>
        {LEGEND_LABELS.map((lab, i) => (
          <g key={lab}>
            <rect x={legendBoxX[i]} y={62} width={26} height={26} fill={FILL_COLORS[i]} stroke="#858585" strokeWidth={2} />
            <text x={legendTextX[i]} y={85} fontFamily={SANS} fontSize={26.8} fill="#000">{lab}</text>
          </g>
        ))}
        {/* panel A header */}
        <text x={10} y={169} fontFamily={SANS} fontWeight="bold" fontSize={38} fill="#000">A.</text>
        <text x={68} y={170} fontFamily={SANS} fontSize={39} fill="#000">
          <tspan fontStyle="italic">p</tspan>
          <tspan fontSize={20} dy={5}>T</tspan>
          <tspan dy={-5}>{"<5x10"}</tspan>
          <tspan fontSize={23} dy={-16}>-8</tspan>
        </text>
        <text x={507} y={171} textAnchor="middle" fontFamily={SANS} fontSize={26.8} fill="#000">Clumping with correlation values</text>
        {/* panel B header */}
        <text x={852} y={169} fontFamily={SANS} fontWeight="bold" fontSize={38} fill="#000">B.</text>
        <text x={906} y={170} fontFamily={SANS} fontSize={39} fill="#000">
          <tspan fontStyle="italic">p</tspan>
          <tspan fontSize={20} dy={5}>T</tspan>
          <tspan dy={-5} textDecoration="underline">{"<"}</tspan>
          <tspan>1</tspan>
        </text>
        <text x={1252} y={172} textAnchor="middle" fontFamily={SANS} fontSize={26.8} fill="#000">Clumping with correlation values</text>
        {R2_VALUES.map((v, i) => (
          <R2Label key={"ra" + i} cx={r2A[i]} y={r2Y[i]} v={v} />
        ))}
        {R2_VALUES.map((v, i) => (
          <R2Label key={"rb" + i} cx={r2B[i]} y={r2Y[i]} v={v} />
        ))}
        {/* row labels */}
        {ROW_LABELS.map((lab, i) => (
          <g key={"row" + lab}>
            <text x={79} y={ROW_BASE[i]} fontFamily={ROWFONT} fontSize={24} fill="#000">{lab}</text>
            <text x={855} y={ROW_BASE[i]} fontFamily={ROWFONT} fontSize={24} fill="#000">{lab}</text>
          </g>
        ))}
        <text transform="translate(42,590) rotate(-90)" textAnchor="middle" fontFamily={ROWFONT} fontSize={25} fill="#000">
          Clumping on particular 1000Genomes populations
        </text>
        {prsA.map((x, i) => <PRSLabel key={"pa" + i} x={x} />)}
        {prsB.map((x, i) => <PRSLabel key={"pb" + i} x={x} />)}
      </svg>
    </div>
  );
}
